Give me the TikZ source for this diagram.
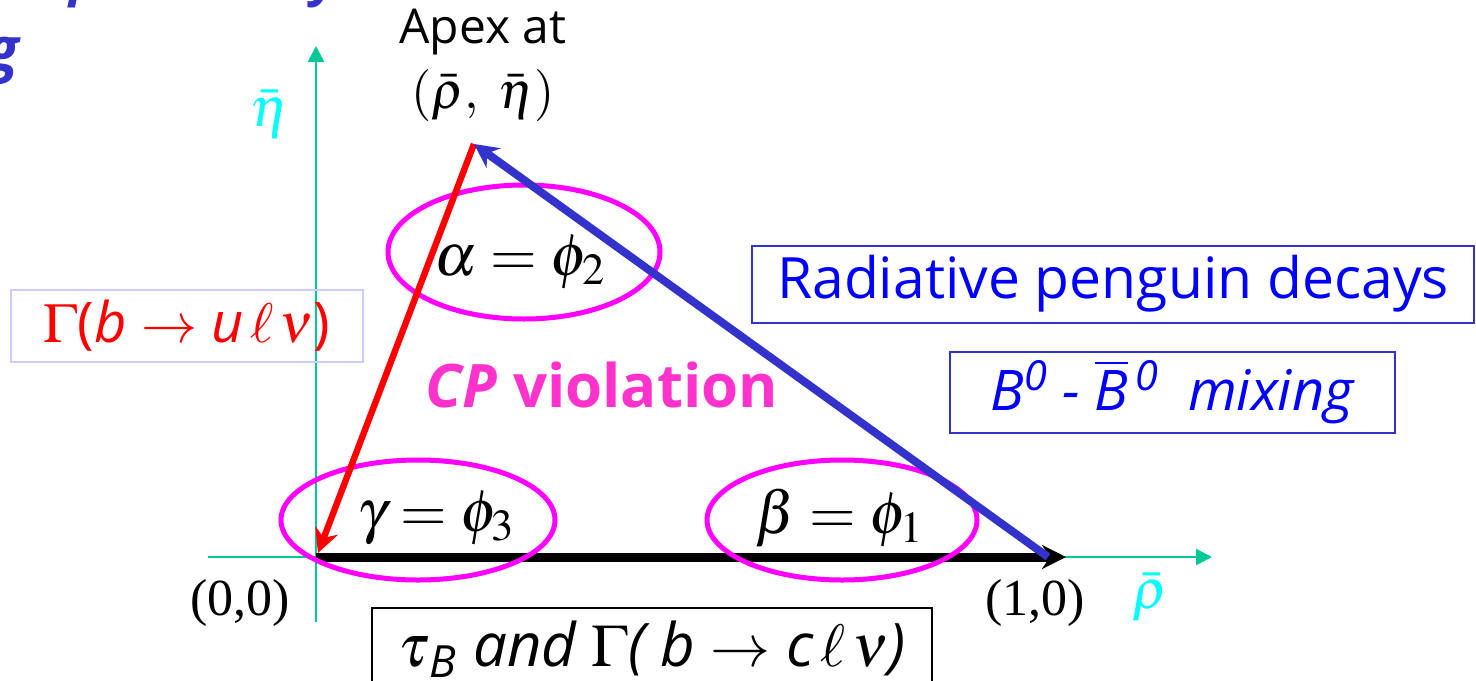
\documentclass[tikz,border=0pt]{standalone}
\usepackage{mathptmx}
\usepackage{fontspec}
\setmainfont{Open Sans}
\newfontfamily\serifnum{Liberation Serif}
\usetikzlibrary{positioning}
\usetikzlibrary{shapes.geometric, arrows.meta, positioning}
\definecolor{axisgreen}{HTML}{00C896}
\definecolor{barcyan}{HTML}{00FFFF}
\definecolor{ringmag}{HTML}{FF00FF}
\definecolor{cpmag}{HTML}{FF33CC}
\definecolor{sideblue}{HTML}{3333CC}
\definecolor{textblue}{HTML}{0000FF}
\definecolor{lilac}{HTML}{CCCCFF}

\begin{document}
\begin{tikzpicture}[
  x=0.5pt, y=-0.5pt,
  axis/.style={draw=axisgreen, line width=1.3pt, -{Triangle[length=8pt, width=8pt]}},
  side/.style={line width=4pt, -{Stealth[length=12pt, width=12pt]}},
  ring/.style={ellipse, draw=ringmag, line width=2.5pt, inner sep=0pt},
  tag/.style={rectangle, draw, line width=1pt, inner sep=0pt, align=center},
  angle/.style={font=\fontsize{30}{36}\selectfont},
  coord/.style={font=\serifnum\fontsize{26}{30}\selectfont},
  axlabel/.style={text=barcyan, font=\fontsize{28}{32}\selectfont},
  cutoff/.style={text=sideblue, font=\bfseries\itshape\fontsize{26}{30}\selectfont}
]
  \useasboundingbox (0,0) rectangle (1476,680);

  \coordinate (O) at (316,557);
  \coordinate (apex) at (474,144);
  \coordinate (one) at (1066,557);
  \coordinate (bstart) at (1048,557);
  \coordinate (redend) at (318,553);
  \coordinate (xstart) at (208,557);
  \coordinate (xend) at (1212,557);
  \coordinate (ystart) at (316,622);
  \coordinate (yend) at (316,46);

  \node[cutoff, anchor=base west] (prob) at (62,-4) {probability};
  \node[cutoff, font=\bfseries\itshape\fontsize{30}{36}\selectfont, anchor=base east] (ing) at (26,70) {g};

  \node[font=\fontsize{24}{28}\selectfont] (apexat) at (483,32) {Apex at};
  \node[font=\fontsize{26}{30}\selectfont, below=0pt of apexat] (apexpt) {$(\bar{\rho},\ \bar{\eta})$};
  \node[axlabel] (eta) at (270,114) {$\bar{\eta}$};
  \node[axlabel] (rho) at (1150,597) {$\bar{\rho}$};
  \node[coord] (zero) at (240,603) {(0,0)};
  \node[coord] (unit) at (1035,603) {(1,0)};

  \draw[axis] (xstart) -- (xend);
  \draw[axis] (ystart) -- (yend);
  \draw[side, black, line width=4.5pt] (O) -- (one);

  \node[ring, minimum width=136pt, minimum height=67pt] (alphaRing) at (524,252) {};
  \node[ring, minimum width=137pt, minimum height=60pt] (gammaRing) at (418,520) {};
  \node[ring, minimum width=135pt, minimum height=60pt] (betaRing) at (842,520) {};

  \draw[side, red, line width=3.2pt] (apex) -- (redend);
  \draw[side, sideblue] (bstart) -- (apex);

  \node[angle] (alpha) at (520,262) {$\alpha = \phi_2$};
  \node[angle] (gamma) at (436,518) {$\gamma = \phi_3$};
  \node[angle] (beta) at (840,518) {$\beta = \phi_1$};

  \node[text=cpmag, font=\bfseries\fontsize{30}{36}\selectfont] (cp) at (602,385) {\itshape CP \upshape violation};

  \node[tag, draw=lilac, minimum width=176pt, minimum height=36pt, text=red, font=\fontsize{28}{32}\selectfont] (utag) at (187,326)
    {$\Gamma$(\itshape b $\to$ u$\,\ell\,\nu$\upshape)};
  \node[tag, draw=sideblue, minimum width=361pt, minimum height=38.5pt, text=textblue, font=\fontsize{28.5}{32}\selectfont] (penguin) at (1113,284)
    {Radiative penguin decays};
  \node[tag, draw=sideblue, minimum width=222.5pt, minimum height=40.5pt, text=textblue, font=\itshape\fontsize{28}{32}\selectfont] (mixing) at (1172,392)
    {B\textsuperscript{0} - $\overline{\mbox{B}}$\textsuperscript{\,0}\ \ mixing};
  \node[tag, draw=black, minimum width=280pt, minimum height=41pt, font=\itshape\fontsize{30}{36}\selectfont] (ctag) at (652,649)
    {$\tau$\textsubscript{B} and $\Gamma$( b $\to$ c$\,\ell\,\nu$)};
\end{tikzpicture}
\end{document}
